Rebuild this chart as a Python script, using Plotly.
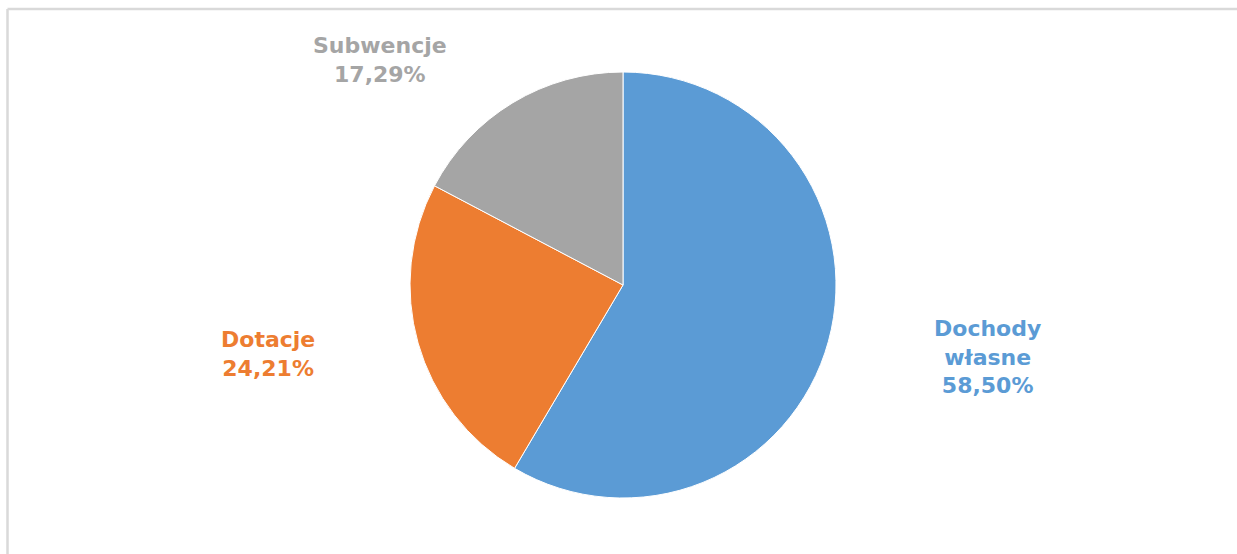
import plotly.graph_objects as go

categories = ["Dochody własne", "Dotacje", "Subwencje"]
label_lines = [["Dochody", "własne"], ["Dotacje"], ["Subwencje"]]
values = [58.50, 24.21, 17.29]
colors = ["#5B9BD5", "#ED7D31", "#A5A5A5"]

W, H = 1237, 554
cx, cy, r = 623, 285, 213

fig = go.Figure()
fig.add_trace(go.Pie(
    labels=categories,
    values=values,
    sort=False,
    direction="clockwise",
    rotation=0,
    textinfo="none",
    hoverinfo="label+percent",
    marker=dict(colors=colors, line=dict(color="white", width=1)),
    showlegend=False,
    domain=dict(x=[(cx - r) / W, (cx + r) / W], y=[(H - cy - r) / H, (H - cy + r) / H]),
))

# label positions (pixel centres) for each category
label_pos = [(987, 357), (268, 354), (380, 60)]
for lines, v, c, (px, py) in zip(label_lines, values, colors, label_pos):
    txt = "<br>".join(lines + [f"{v:.2f}".replace(".", ",") + "%"])
    fig.add_annotation(
        x=px / W, y=1 - py / H, xref="paper", yref="paper",
        text=txt, showarrow=False, align="center",
        xanchor="center", yanchor="middle",
        font=dict(family="DejaVu Sans", size=22, color=c, weight="bold"),
    )

# chart frame lines
fig.add_shape(type="line", xref="paper", yref="paper",
              x0=7.5 / W, x1=1.01, y0=1 - 9 / H, y1=1 - 9 / H,
              line=dict(color="#D9D9D9", width=2.5))
fig.add_shape(type="line", xref="paper", yref="paper",
              x0=7.5 / W, x1=7.5 / W, y0=-0.01, y1=1 - 9 / H,
              line=dict(color="#D9D9D9", width=2.5))

fig.update_layout(
    width=W, height=H,
    margin=dict(l=0, r=0, t=0, b=0),
    paper_bgcolor="white",
    plot_bgcolor="white",
)
fig.write_html("out.html", config={"displayModeBar": False},
               post_script="document.body.style.margin='0';document.body.style.overflow='hidden';")
